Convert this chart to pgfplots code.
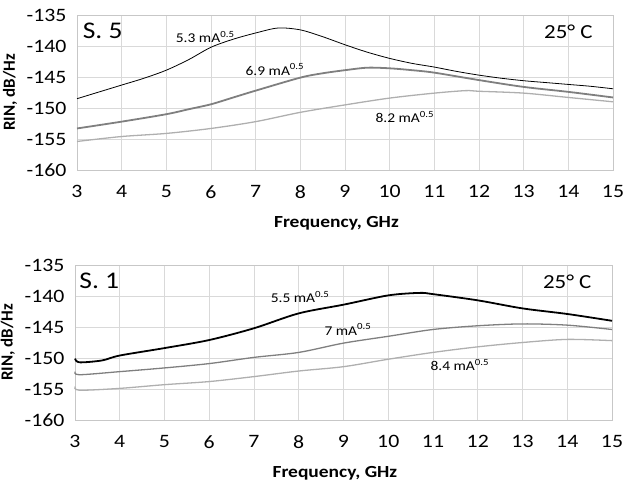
\documentclass[border=0pt]{standalone}
\usepackage{fontspec}
\setmainfont{Carlito}[FakeStretch=1.15]
\newfontfamily\plainfont{Carlito}
\usepackage{pgfplots}
\pgfplotsset{compat=1.18}
\definecolor{gridc}{HTML}{D9D9D9}
\definecolor{midg}{HTML}{7F7F7F}
\definecolor{lightg}{HTML}{AFAFAF}
\pgfplotsset{rinax/.style={
  scale only axis, width=536bp, height=155bp,
  xmin=3, xmax=15, ymin=-160, ymax=-135,
  xtick={3,...,15}, ytick={-160,-155,...,-135},
  grid=major, major grid style={gridc, line width=0.6pt},
  axis line style={gridc!80!gray, line width=0.8pt},
  major tick length=0pt,
  /pgf/number format/assume math mode=true,
  tick label style={font=\fontsize{19}{21}\selectfont},
  xticklabel style={yshift=-12bp},
  yticklabel style={xshift=-7bp},
  xlabel={\textbf{Frequency, GHz}},
  ylabel={\plainfont\bfseries RIN, dB/Hz},
  label style={font=\fontsize{17}{19}\selectfont},
  xlabel style={at={(axis description cs:0.484,-0.345)}, anchor=center},
  ylabel style={at={(axis description cs:-0.125,0.5)}, anchor=center, rotate=0},
  clip=false,
}}
\begin{document}
\begin{tikzpicture}
\useasboundingbox (0,0) rectangle (625bp,484bp);
\begin{axis}[rinax, at={(77bp,314bp)}, anchor=south west]
\addplot[lightg, line width=1.3pt, smooth] coordinates {(3,-155.4)(4,-154.6)(5,-154.1)(6,-153.3)(7,-152.2)(8,-150.7)(9,-149.5)(10,-148.4)(11,-147.6)(11.7,-147.2)(12,-147.3)(13,-147.6)(14,-148.3)(15,-149)};
\addplot[midg, line width=1.8pt, smooth] coordinates {(3,-153.3)(4,-152.2)(5,-151)(5.5,-150.2)(6,-149.4)(6.5,-148.3)(7,-147.2)(8,-145.1)(8.5,-144.4)(9,-143.9)(9.5,-143.5)(10,-143.6)(10.5,-143.9)(11,-144.3)(12,-145.5)(13,-146.6)(14,-147.4)(15,-148.3)};
\addplot[black, line width=0.8pt, smooth] coordinates {(3,-148.5)(3.5,-147.4)(4,-146.3)(4.5,-145.2)(5,-143.9)(5.5,-142.2)(6,-140.2)(6.5,-138.9)(7,-137.9)(7.5,-137.1)(8,-137.4)(8.5,-138.5)(9,-139.8)(9.5,-141)(10,-142)(10.5,-142.8)(11,-143.4)(11.5,-144.1)(12,-144.7)(12.5,-145.2)(13,-145.6)(13.5,-145.9)(14,-146.2)(14.5,-146.5)(15,-146.9)};
\node[font=\fontsize{24}{26}\selectfont, anchor=west] at (axis cs:3.05,-137.6) {S. 5};
\node[font=\fontsize{20}{22}\selectfont] at (axis cs:14.0,-137.7) {25° C};
\node[font=\fontsize{13.5}{15}\selectfont] at (axis cs:5.87,-138.6) {5.3 mA\textsuperscript{0.5}};
\node[font=\fontsize{13.5}{15}\selectfont] at (axis cs:7.43,-143.8) {6.9 mA\textsuperscript{0.5}};
\node[font=\fontsize{13.5}{15}\selectfont] at (axis cs:10.34,-151.4) {8.2 mA\textsuperscript{0.5}};
\end{axis}
\begin{axis}[rinax, at={(75bp,64bp)}, anchor=south west, width=537bp]
\addplot[lightg, line width=1.3pt, smooth] coordinates {(3,-154.6)(3.1,-155.2)(4,-154.9)(5,-154.3)(6,-153.8)(7,-153)(8,-152.1)(9,-151.4)(10,-150.2)(11,-149.1)(12,-148.2)(13,-147.5)(14,-147)(15,-147.2)};
\addplot[midg, line width=1.3pt, smooth] coordinates {(3,-152.2)(3.1,-152.7)(4,-152.2)(5,-151.6)(6,-150.9)(7,-149.9)(8,-149.1)(9,-147.6)(10,-146.5)(11,-145.4)(12,-144.8)(13,-144.5)(14,-144.7)(15,-145.4)};
\addplot[black, line width=1.8pt, smooth] coordinates {(3,-150.1)(3.1,-150.7)(3.6,-150.4)(4,-149.6)(5,-148.4)(6,-147.1)(7,-145.2)(8,-142.8)(9,-141.4)(10,-139.9)(10.7,-139.5)(11,-139.7)(12,-140.7)(13,-142)(14,-142.9)(15,-144)};
\node[font=\fontsize{24}{26}\selectfont, anchor=west] at (axis cs:3.02,-137.6) {S. 1};
\node[font=\fontsize{20}{22}\selectfont] at (axis cs:14.0,-137.7) {25° C};
\node[font=\fontsize{13.5}{15}\selectfont] at (axis cs:8.03,-140.1) {5.5 mA\textsuperscript{0.5}};
\node[font=\fontsize{13.5}{15}\selectfont] at (axis cs:9.1,-145.4) {7 mA\textsuperscript{0.5}};
\node[font=\fontsize{13.5}{15}\selectfont] at (axis cs:11.6,-151.1) {8.4 mA\textsuperscript{0.5}};
\end{axis}
\end{tikzpicture}
\end{document}
